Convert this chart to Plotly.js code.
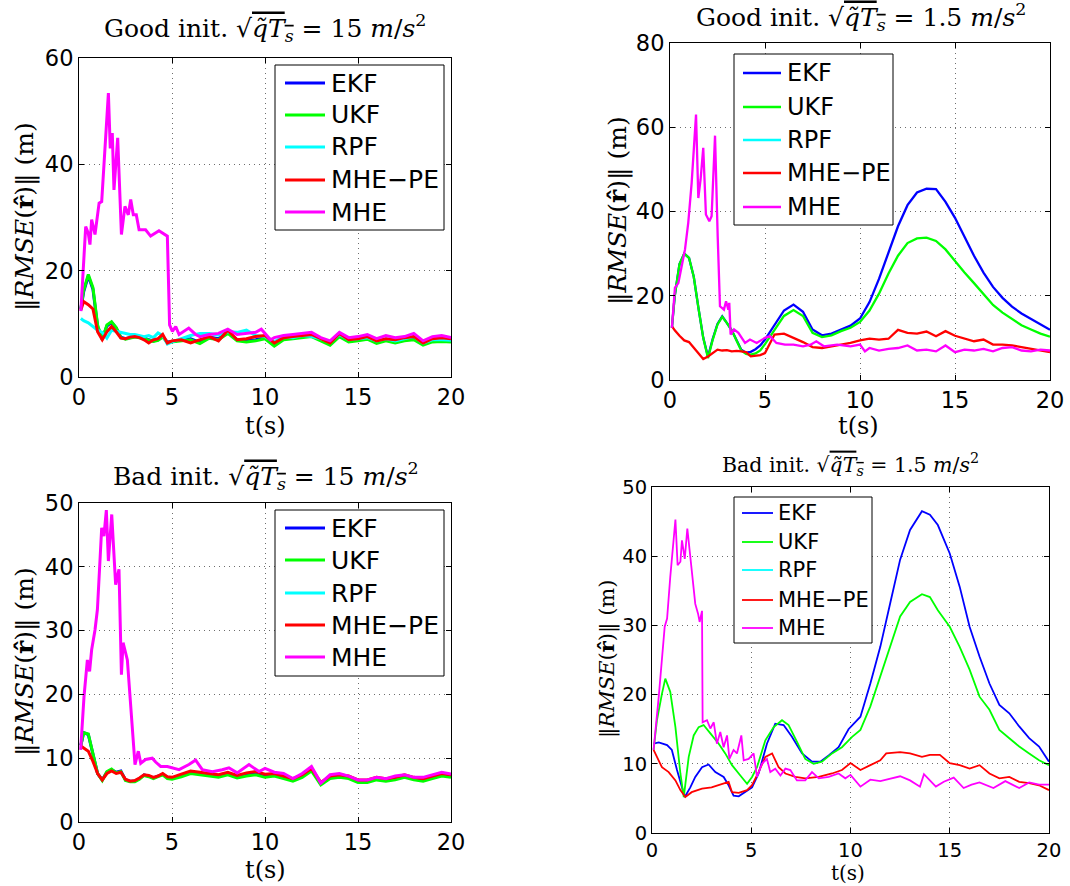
<!DOCTYPE html>
<html><head><meta charset="utf-8">
<script src="https://cdn.plot.ly/plotly-3.0.1.min.js"></script>
<style>html,body{margin:0;padding:0;background:#fff}</style>
</head><body><div id="plot" style="width:1070px;height:886px"></div>
<script>
// ---------------- DATA ----------------
const seriesNames = ["EKF", "UKF", "RPF", "MHE\u2212PE", "MHE"];
const seriesColors = ["#0000ff", "#00ff00", "#00ffff", "#ff0000", "#ff00ff"];
const xTicks = [0, 5, 10, 15, 20];

// shared time grid (s)
const tA = [0.1,0.25,0.5,0.75,1,1.25,1.5,1.75,2,2.25,2.5,2.75,3,3.25,3.5,3.75,4,4.25,4.5,4.75,5,
  5.5,6,6.5,7,7.5,8,8.5,9,9.5,10,10.5,11,11.5,12,12.5,13,13.5,14,14.5,15,15.5,16,16.5,17,17.5,18,18.5,19,19.5,20];

// Panel 1: Good init, 15 m/s^2
const ekf1 = [12.8,16.0,19.0,16.5,9.5,7.2,9.6,10.3,9.2,7.5,7.2,7.4,7.6,7.5,7.4,7.0,6.8,7.0,7.6,6.6,6.7,
  7.0,7.2,6.5,7.5,7.2,8.4,7.0,6.8,7.0,7.4,6.0,7.2,7.4,7.6,7.8,7.0,6.2,7.8,6.8,7.0,7.3,6.5,7.0,6.6,7.0,7.2,6.2,6.8,6.9,6.8];
const ukf1 = [12.9,16.3,19.3,16.8,9.8,7.0,9.8,10.4,9.3,7.4,7.1,7.3,7.5,7.4,7.3,6.9,6.7,6.9,7.5,6.5,6.6,
  6.8,7.0,6.3,7.3,7.0,8.2,6.8,6.6,6.8,7.2,5.8,7.0,7.2,7.4,7.6,6.8,6.0,7.6,6.6,6.8,7.1,6.3,6.8,6.4,6.8,7.0,6.0,6.6,6.7,6.6];
const rpf1 = [11.0,10.6,10.2,9.5,8.8,8.4,7.3,8.8,8.6,8.3,8.2,8.0,8.0,7.8,7.6,7.8,7.4,8.3,7.8,6.2,6.6,
  7.2,7.8,8.2,8.2,7.9,8.5,8.4,8.8,7.8,7.6,6.6,7.6,7.4,7.8,7.6,7.2,6.6,8.0,7.0,7.2,7.4,6.8,7.2,6.8,7.2,7.6,6.4,7.0,7.0,6.9];
const mhepe1 = [12.6,14.2,13.6,12.8,8.5,7.0,8.5,9.5,8.5,7.3,7.2,7.5,7.6,7.4,7.0,6.4,7.0,7.2,8.0,6.4,6.8,
  7.0,6.4,7.0,7.6,6.8,8.8,7.0,7.2,7.6,7.8,6.4,7.4,7.6,7.8,8.0,7.2,6.4,8.2,7.0,7.2,7.6,6.8,7.2,7.0,7.4,7.6,6.4,7.2,7.4,7.2];
const tMhe1 = [0.1,0.36,0.5,0.59,0.68,0.86,1.08,1.22,1.58,1.68,1.79,1.88,2.08,2.28,2.47,2.65,2.78,2.92,3.08,3.23,3.58,3.85,4.3,4.75,4.87,5.02,5.2,5.38,5.9,6.27,
  6.5,7,7.5,8,8.5,9,9.5,9.8,10.3,10.5,11,11.5,12,12.5,13,13.5,14,14.5,15,15.5,16,16.5,17,17.5,18,18.5,19,19.5,20];
const mhe1 = [12.4,28.3,27.0,24.9,29.6,26.8,32.7,33,53.4,43,45.9,35.2,45,26.8,32.1,30.5,33.4,30.5,30.5,27.7,27.7,26.5,27.5,26.5,9.8,8.6,9.5,8.0,9.2,8.0,
  7.6,8.0,8.2,9.0,8.0,8.2,8.4,9.0,7.0,7.4,7.8,8.0,8.2,8.4,7.4,6.8,8.4,7.4,7.6,8.0,7.2,7.8,7.4,7.6,8.2,6.8,7.6,7.8,7.4];

// Panel 2: Good init, 1.5 m/s^2
const ekf2 = [12.4,20,27.5,30,29,24.5,17,10,5.5,9.8,13.3,15.1,13.5,11.8,9.5,7.2,6.5,6.7,7.3,8.2,9.6,
  13,16.5,17.9,16.2,12,10.6,11,12,12.9,14.6,18.5,24,30,36.5,41.5,44.5,45.4,45.3,42.3,38.5,34,29.5,25.5,22.1,19.5,17.4,15.8,14.5,13.1,11.9];
const ukf2 = [12.4,20,27.5,30,29,24.5,17,10,5.2,9.6,13.2,15,13.5,11.8,9.4,7,6.2,6.0,6.3,7.0,8.5,
  12,15.2,16.6,15.2,11.2,10.2,10.6,11.6,12.4,13.8,16.5,20.5,25.3,29.5,32.5,33.6,33.8,33,31,28.2,25.5,23,20.5,17.8,16,14.4,13,12,11,10.3];
const rpf2 = [];
const mhepe2 = [12.8,11.8,10.5,9.4,9.0,7.6,6.2,5.0,5.6,6.4,7.2,7.0,7.1,6.8,6.9,6.8,6.6,5.6,5.8,5.9,6.4,
  10.8,11.0,10.0,9.0,7.8,7.6,8.0,8.4,8.8,9.4,9.8,9.6,9.8,11.9,11.2,11.0,11.5,10.4,11.6,10.5,9.8,9.2,9.6,8.4,8.4,8.2,7.8,7.4,7.0,6.6];
const tMhe2 = [0.1,0.26,0.44,0.79,0.96,1.14,1.37,1.49,1.61,1.75,1.89,2.07,2.19,2.37,2.51,2.63,2.84,2.95,3.07,3.12,3.19,3.37,3.6,3.95,4.21,4.56,5.0,5.26,5.6,6.05,
  6.5,7.0,7.4,7.7,8.1,8.8,9.5,10,10.26,10.5,11,11.5,12,12.5,13,13.5,14,14.5,15,15.5,16,16.5,17,17.5,18,18.5,19,19.5,20];
const mhe2 = [12.4,21.9,23,31,37.3,46.8,63,43.2,47.6,55.1,39.3,37.7,38.9,58,34.1,17.5,16.7,18.7,16.7,18.3,10.8,12,11.2,8.8,9.6,8.8,10,10.4,8.8,8.4,
  8.4,8,8.4,9.2,8,8.4,8,8.4,6.8,7.6,7.0,7.4,7.6,8.2,7.0,7.2,6.8,8.2,6.6,7.2,7.0,7.4,6.8,7.6,7.8,7.0,6.8,7.2,7.0];

// Panel 3: Bad init, 15 m/s^2
const ekf3 = [12.0,14.0,13.7,10.5,7.6,6.6,7.8,8.2,7.8,8.0,6.6,6.4,6.4,6.8,7.4,7.2,6.9,7.2,7.5,7.0,6.9,
  7.3,7.8,7.6,7.4,7.2,7.6,7.1,7.5,7.6,7.2,7.4,7.0,6.6,7.2,8.2,6.0,7.0,7.2,7.0,6.4,6.4,6.8,6.6,6.8,7.2,6.8,6.6,7.0,7.4,7.2];
const ukf3 = [12.0,14.0,13.8,10.8,7.6,6.5,7.9,8.3,7.7,7.9,6.5,6.3,6.3,6.7,7.3,7.1,6.8,7.1,7.4,6.8,6.7,
  7.1,7.6,7.4,7.2,7.0,7.4,6.9,7.2,7.4,7.0,7.2,6.8,6.4,7.0,8.0,5.8,6.8,7.0,6.8,6.2,6.2,6.6,6.4,6.6,7.0,6.6,6.4,6.8,7.2,7.0];
const rpf3 = [];
const mhepe3 = [11.9,11.6,11.1,9.5,7.6,6.6,7.6,8.0,7.6,7.8,6.7,6.4,6.5,6.9,7.4,7.3,7.0,7.2,7.6,7.1,7.0,
  7.5,8.0,7.8,7.6,7.4,7.8,7.3,7.7,7.9,7.5,7.6,7.2,6.8,7.4,8.4,6.2,7.2,7.4,7.2,6.6,6.6,7.0,6.8,7.0,7.4,7.0,6.8,7.2,7.6,7.4];
const tMhe3 = [0.09,0.27,0.45,0.57,0.68,0.86,0.99,1.22,1.34,1.47,1.58,1.76,1.97,2.15,2.28,2.37,2.6,2.78,3.01,3.19,3.32,3.58,3.94,4.12,4.39,4.75,5.38,5.91,6.27,6.63,
  7.17,7.7,8.06,8.5,9.14,9.68,10,10.5,11,11.5,12,12.5,13,13.5,14,14.5,15,15.5,16,16.5,17,17.5,18,18.5,19,19.5,20];
const mhe3 = [11.3,19.7,25.4,23.6,27,30.1,33.3,46.1,44.8,48.9,40.9,48.2,37.2,39.6,23.1,28.1,25.4,17.6,9,11.1,9.2,9.8,10,9.4,8.7,8.7,8.2,9.0,9.7,8.2,
  7.9,8.2,8.5,7.7,9,7.9,8.4,7.8,7.6,6.8,7.6,8.7,6.1,7.4,7.6,7.2,6.6,6.6,7.0,6.8,7.2,7.4,7.0,7.0,7.4,7.8,7.5];

// Panel 4: Bad init, 1.5 m/s^2
const tEkf4 = [0.08,0.34,0.76,1.0,1.26,1.65,1.93,2.18,2.52,2.85,3.19,3.61,3.86,4.11,4.37,4.7,5.04,5.37,5.79,6.21,6.63,7.05,7.56,8.06,8.48,8.9,9.4,9.9,
  10.5,11,11.5,12,12.5,13,13.6,14,14.4,15,15.5,16,16.5,17,17.5,18,18.5,19,19.5,20];
const ekf4 = [12.9,13.1,12.7,12.0,9.1,5.2,6.6,8.1,9.5,9.9,8.8,8.1,6.9,5.4,5.3,5.9,6.6,8.6,12.9,15.8,15.6,13.9,11.5,10.3,10.3,11.2,12.4,15.0,
  16.8,21.6,26.9,33.2,39.5,43.8,46.5,46,44.5,40.4,35.6,29.8,25.5,21.6,18.5,17.3,15.4,13.7,12.5,10.3];
const tUkf4 = [0.08,0.25,0.5,0.67,0.92,1.18,1.43,1.6,1.85,2.1,2.35,2.6,2.94,3.36,3.69,4.03,4.45,4.79,5.04,5.29,5.71,6.13,6.55,6.88,7.3,7.72,8.14,8.56,9.07,9.57,
  10.08,10.5,11,11.5,12,12.5,13,13.6,14,14.4,15,15.5,16,16.5,17,17.5,18,18.5,19,19.5,20];
const ukf4 = [12,16.3,20.1,22.3,20.4,15.3,8.6,5.2,11,14.1,15.3,15.6,14.4,12.9,11.5,9.8,8.3,7.1,8.1,9.5,13.4,15.3,16.3,15.6,13.2,10.7,10,10.3,11.5,12.4,
  13.9,14.9,18.3,22.6,26.9,31.3,33.4,34.5,34.1,32.2,29.8,26.9,23.6,19.7,17.8,14.9,13.7,12.5,11.5,10.5,9.8];
const rpf4 = [];
const tMhepe4 = [0.08,0.25,0.5,0.84,1.18,1.43,1.68,2.0,2.52,3.0,3.5,3.86,4.03,4.37,4.79,5.04,5.37,5.71,6.05,6.38,6.72,7.22,7.72,8.4,9.07,9.57,10,10.5,11,11.5,
  11.8,12.5,13,13.6,14,14.5,15,15.5,16,16.5,17,17.5,18,18.5,19,19.5,20];
const mhepe4 = [12,11,9.5,8.8,7.6,6.2,5.2,5.9,6.4,6.6,7.1,7.4,5.9,5.8,6.2,6.9,8.8,11,11.5,9.5,8.6,8.1,7.9,8.1,8.6,9.1,10.1,9.1,9.8,10.5,
  11.5,11.7,11.5,11.0,11.3,11.3,10.1,9.8,9.3,9.8,8.6,7.9,8.1,7.4,7.2,6.9,6.2];
const tMhe4 = [0.08,0.34,0.64,0.76,0.92,1.18,1.29,1.43,1.51,1.65,1.78,1.98,2.18,2.32,2.4,2.52,2.55,2.77,2.94,3.11,3.27,3.44,3.61,3.78,3.9,4.11,4.28,4.5,4.62,4.87,
  5.12,5.29,5.54,5.79,5.96,6.21,6.47,6.72,6.97,7.3,7.72,8.06,8.4,8.9,9.4,9.74,10,10.5,11,11.5,12,12.5,13,13.5,13.7,14.3,14.7,15.2,15.7,16.1,16.5,17.2,17.8,18.5,19,19.5,20];
const mhe4 = [12,19.7,29.8,31,37,45.3,38.7,39.2,42.3,39.6,44,38.4,33.1,31.7,30.5,32.1,16,16.3,15.1,16,12.9,14.6,12.4,14.1,10.7,12,11.5,14.1,10.5,10.7,
  11.5,8.1,10,10.7,8.8,9.3,8.3,9.3,9.1,7.6,7.6,8.8,7.9,8.1,8.6,7.9,8.4,6.7,7.7,7.5,7.8,8.2,7.6,6.7,8.5,6.7,7.4,8.0,6.5,7.0,7.3,6.5,7.5,6.5,7.3,7.0,7.0];

const SQ = "\u221A<span style='text-decoration:overline'><i>q\u0303T<sub>s</sub></i></span>";
const titles = [
  "Good init. " + SQ + " = 15 <i>m</i>/<i>s</i><sup>2</sup>",
  "Good init. " + SQ + " = 1.5 <i>m</i>/<i>s</i><sup>2</sup>",
  "Bad init. " + SQ + " = 15 <i>m</i>/<i>s</i><sup>2</sup>",
  "Bad init. " + SQ + " = 1.5 <i>m</i>/<i>s</i><sup>2</sup>"
];
const yTitle = "\u2016<i>RMSE</i>(<b>r\u0302</b>)\u2016 (m)";
const xTitle = "t(s)";
const yRanges = [[0,60],[0,80],[0,50],[0,50]];
const yDticks = [20,20,10,10];

// ---------------- LAYOUT ----------------
const W = 1070, H = 886;
const fx = p => p / W, fy = p => 1 - p / H;
const SANS = "DejaVu Sans, Liberation Sans, Arial, sans-serif";
const SERIF = "DejaVu Serif, Liberation Serif, serif";

const panels = [
  {box:[79,451,58,377], lw:3, tick:22.5, tSize:25, tPos:[265,28], yPos:[25,217], xPos:[265,426], axFont:24,
   leg:{box:[275,444,65,230], rows:[83,115,147,180,212], line:[285,325], tx:329, font:25, lw:2.8},
   data:[[tA,ekf1],[tA,ukf1],[tA,rpf1],[tA,mhepe1],[tMhe1,mhe1]]},
  {box:[670,1050,43,380], lw:2.3, tick:22.5, tSize:25, tPos:[861,17], yPos:[618,211], xPos:[858,426], axFont:24,
   leg:{box:[734,893,54,225], rows:[73,107,140,173,207], line:[743,781], tx:785, font:24, lw:2.4},
   data:[[tA,ekf2],[tA,ukf2],[tA,rpf2],[tA,mhepe2],[tMhe2,mhe2]]},
  {box:[79,451,503,822], lw:3, tick:22.5, tSize:25, tPos:[266,476], yPos:[25,662], xPos:[265,870], axFont:24,
   leg:{box:[275,444,510,676], rows:[528,560,593,625,657], line:[285,325], tx:329, font:25, lw:2.8},
   data:[[tA,ekf3],[tA,ukf3],[tA,rpf3],[tA,mhepe3],[tMhe3,mhe3]]},
  {box:[652,1049,487,833], lw:1.8, tick:19.5, tSize:20.5, tPos:[850,464], yPos:[607,659], xPos:[848,873], axFont:20,
   leg:{box:[734,872,497,643], rows:[513,542,570,600,628], line:[742,773], tx:776, font:21, lw:1.8},
   data:[[tEkf4,ekf4],[tUkf4,ukf4],[tA,rpf4],[tMhepe4,mhepe4],[tMhe4,mhe4]]}
];

const traces = [];
const layout = {
  width: W, height: H, margin: {l:0, r:0, t:0, b:0}, paper_bgcolor: "#fff", plot_bgcolor: "#fff",
  showlegend: false, hovermode: false, annotations: [], shapes: []
};

panels.forEach((p, i) => {
  const n = i === 0 ? "" : String(i + 1);
  const xa = "xaxis" + n, ya = "yaxis" + n;
  const common = {
    showline: true, linecolor: "#000", linewidth: 1, mirror: "ticks",
    ticks: "inside", ticklen: 5, tickcolor: "#000", tickwidth: 1,
    showgrid: true, gridcolor: "rgb(110,110,110)", gridwidth: 1, griddash: "1px,4px",
    zeroline: false, fixedrange: true,
    tickfont: {family: SANS, size: p.tick, color: "#000"}
  };
  layout[xa] = Object.assign({}, common, {
    domain: [fx(p.box[0]), fx(p.box[1])], anchor: "y" + n, range: [0, 20],
    tickmode: "array", tickvals: xTicks, ticktext: xTicks.map(String)
  });
  layout[ya] = Object.assign({}, common, {
    domain: [fy(p.box[3]), fy(p.box[2])], anchor: "x" + n, range: yRanges[i],
    tickmode: "linear", tick0: 0, dtick: yDticks[i]
  });
  p.data.forEach((d, k) => {
    traces.push({
      type: "scatter", mode: "lines", x: d[0], y: d[1], name: seriesNames[k],
      xaxis: "x" + n, yaxis: "y" + n, showlegend: false,
      line: {color: seriesColors[k], width: p.lw}
    });
  });
  // legend box (drawn with shapes + annotations to match the MATLAB layout)
  const L = p.leg;
  layout.shapes.push({type: "rect", xref: "paper", yref: "paper", layer: "above",
    x0: fx(L.box[0]), x1: fx(L.box[1]), y0: fy(L.box[3]), y1: fy(L.box[2]),
    line: {color: "#000", width: 1}, fillcolor: "#fff"});
  seriesNames.forEach((nm, k) => {
    layout.shapes.push({type: "line", xref: "paper", yref: "paper", layer: "above",
      x0: fx(L.line[0]), x1: fx(L.line[1]), y0: fy(L.rows[k]), y1: fy(L.rows[k]),
      line: {color: seriesColors[k], width: L.lw}});
    layout.annotations.push({xref: "paper", yref: "paper", x: fx(L.tx), y: fy(L.rows[k]),
      xanchor: "left", yanchor: "middle", showarrow: false, text: nm,
      font: {family: SANS, size: L.font, color: "#000"}});
  });
  layout.annotations.push({
    xref: "paper", yref: "paper", x: fx(p.tPos[0]), y: fy(p.tPos[1]), xanchor: "center", yanchor: "middle",
    text: titles[i], showarrow: false, font: {family: SERIF, size: p.tSize, color: "#000"}
  });
  layout.annotations.push({
    xref: "paper", yref: "paper", x: fx(p.yPos[0]), y: fy(p.yPos[1]), xanchor: "center", yanchor: "middle",
    text: yTitle, textangle: -90, showarrow: false, font: {family: SERIF, size: p.axFont + 1, color: "#000"}
  });
  layout.annotations.push({
    xref: "paper", yref: "paper", x: fx(p.xPos[0]), y: fy(p.xPos[1]), xanchor: "center", yanchor: "middle",
    text: xTitle, showarrow: false, font: {family: SERIF, size: p.axFont, color: "#000"}
  });
});

Plotly.newPlot("plot", traces, layout, {staticPlot: true, displayModeBar: false});
</script></body></html>
